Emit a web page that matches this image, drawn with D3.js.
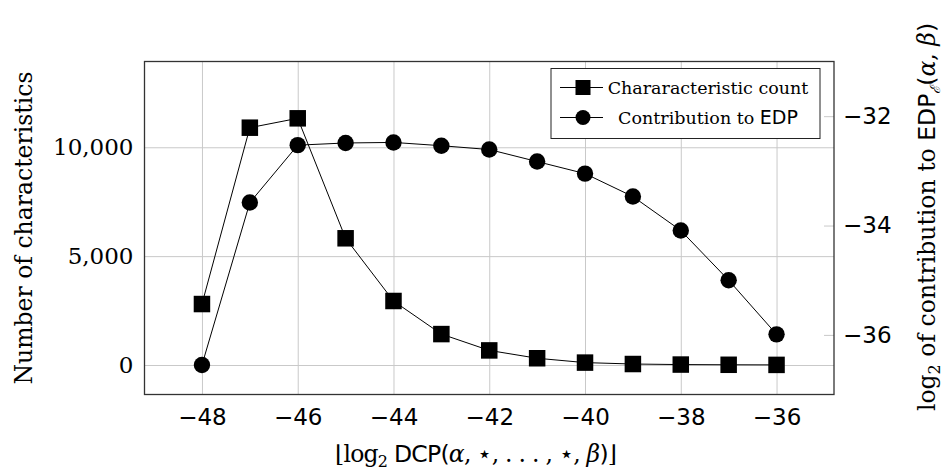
<!DOCTYPE html>
<html>
<head>
<meta charset="utf-8">
<script src="https://cdn.jsdelivr.net/npm/d3@7"></script>
<style>
  html, body { margin: 0; padding: 0; background: #fff; }
  svg { display: block; }
</style>
</head>
<body>
<svg id="chart" width="945" height="471"></svg>
<script>
// ---- data ----
const xValues = [-48, -47, -46, -45, -44, -43, -42, -41, -40, -39, -38, -37, -36];
const characteristicCount = [2800, 10900, 11330, 5820, 2940, 1420, 670, 310, 110, 45, 20, 10, 5];
const edpContribution = [-36.55, -33.58, -32.53, -32.49, -32.48, -32.54, -32.61, -32.83, -33.05, -33.47, -34.09, -35.0, -35.99];
const xTicks = [-48, -46, -44, -42, -40, -38, -36];
const leftTicks = [0, 5000, 10000];
const rightTicks = [-36, -34, -32];
const legendLabels = ["Chararacteristic count", "Contribution to "];

// ---- layout ----
const L = 144.5, R = 834, T = 61.5, B = 394.5;
const SERIF = "'DejaVu Serif', serif";
const SANS = "'DejaVu Sans', sans-serif";
const GRID = "#c9c9c9";

const svg = d3.select("#chart");
const x = d3.scaleLinear().domain([-49.2, -34.8]).range([L, R]);
const yL = d3.scaleLinear().domain([-1355, 13940]).range([B, T]);
const yR = d3.scaleLinear().domain([-37.09, -31.0]).range([B, T]);
const minus = v => String(v).replace("-", "\u2212");

// grid vertical
const gx = svg.append("g").attr("transform", `translate(0,${B})`)
  .call(d3.axisBottom(x).tickValues(xTicks).tickSize(-(B - T)).tickFormat(""));
gx.select(".domain").remove();
gx.selectAll("line").attr("stroke", GRID).attr("stroke-width", 1);

// grid horizontal (left axis)
const gy = svg.append("g").attr("transform", `translate(${L},0)`)
  .call(d3.axisLeft(yL).tickValues(leftTicks).tickSize(-(R - L)).tickFormat(""));
gy.select(".domain").remove();
gy.selectAll("line").attr("stroke", GRID).attr("stroke-width", 1);

// right inward ticks
const gr = svg.append("g").attr("transform", `translate(${R},0)`)
  .call(d3.axisRight(yR).tickValues(rightTicks).tickSize(-10).tickFormat(""));
gr.select(".domain").remove();
gr.selectAll("line").attr("stroke", GRID).attr("stroke-width", 1);

// tick labels bottom
const bx = svg.append("g").attr("transform", `translate(0,${B})`)
  .call(d3.axisBottom(x).tickValues(xTicks).tickSize(0).tickPadding(14).tickFormat(minus));
bx.select(".domain").remove();
bx.selectAll("text").attr("font-family", SANS).attr("font-size", 23).attr("fill", "#000");

// tick labels left
const bl = svg.append("g").attr("transform", `translate(${L},0)`)
  .call(d3.axisLeft(yL).tickValues(leftTicks).tickSize(0).tickPadding(11).tickFormat(d3.format(",")));
bl.select(".domain").remove();
bl.selectAll("text").attr("font-family", SERIF).attr("font-size", 23).attr("fill", "#000");

// tick labels right
const br = svg.append("g").attr("transform", `translate(${R},0)`)
  .call(d3.axisRight(yR).tickValues(rightTicks).tickSize(0).tickPadding(9).tickFormat(minus));
br.select(".domain").remove();
br.selectAll("text").attr("font-family", SANS).attr("font-size", 23).attr("fill", "#000");

// frame
svg.append("rect").attr("x", L).attr("y", T).attr("width", R - L).attr("height", B - T)
  .attr("fill", "none").attr("stroke", "#333").attr("stroke-width", 1.3);

// series
const countPts = xValues.map((v, i) => [x(v), yL(characteristicCount[i])]);
const edpPts = xValues.map((v, i) => [x(v), yR(edpContribution[i])]);
const line = d3.line();
svg.append("path").attr("d", line(countPts)).attr("fill", "none").attr("stroke", "#000").attr("stroke-width", 1);
svg.append("path").attr("d", line(edpPts)).attr("fill", "none").attr("stroke", "#000").attr("stroke-width", 1);
const SQ = 16.5;
svg.append("g").selectAll("rect").data(countPts).join("rect")
  .attr("x", d => d[0] - SQ / 2).attr("y", d => d[1] - SQ / 2)
  .attr("width", SQ).attr("height", SQ).attr("fill", "#000");
svg.append("g").selectAll("circle").data(edpPts).join("circle")
  .attr("cx", d => d[0]).attr("cy", d => d[1]).attr("r", 8.2).attr("fill", "#000");

// legend
const lg = svg.append("g");
lg.append("rect").attr("x", 551).attr("y", 68.5).attr("width", 269).attr("height", 70)
  .attr("fill", "#fff").attr("stroke", "#222").attr("stroke-width", 1);
const rows = [87.5, 117.5];
rows.forEach((ry, i) => {
  lg.append("line").attr("x1", 560).attr("x2", 603).attr("y1", ry).attr("y2", ry).attr("stroke", "#000").attr("stroke-width", 1);
  if (i === 0) lg.append("rect").attr("x", 583 - 7.5).attr("y", ry - 7.5).attr("width", 15).attr("height", 15).attr("fill", "#000");
  else lg.append("circle").attr("cx", 583).attr("cy", ry).attr("r", 7.5).attr("fill", "#000");
});
lg.append("text").attr("x", 708).attr("y", rows[0] + 6).attr("text-anchor", "middle")
  .attr("font-family", SERIF).attr("font-size", 17.5).text(legendLabels[0]);
const t2 = lg.append("text").attr("x", 708).attr("y", rows[1] + 6).attr("text-anchor", "middle")
  .attr("font-family", SERIF).attr("font-size", 17.5);
t2.append("tspan").text(legendLabels[1]);
t2.append("tspan").attr("font-family", SANS).attr("font-size", 19).text("EDP");

// x axis label
const xl = svg.append("text").attr("x", 335).attr("y", 462)
  .attr("textLength", 282).attr("lengthAdjust", "spacing")
  .attr("font-family", SERIF).attr("font-size", 23.5);
xl.append("tspan").text("\u230Alog");
xl.append("tspan").attr("font-size", 16).attr("dy", 5).text("2");
xl.append("tspan").attr("dy", -5).attr("font-family", SANS).text(" DCP(");
xl.append("tspan").attr("font-style", "italic").text("\u03B1");
xl.append("tspan").text(", \u22C6, . . . , \u22C6, ");
xl.append("tspan").attr("font-style", "italic").text("\u03B2");
xl.append("tspan").attr("font-family", SANS).text(")");
xl.append("tspan").text("\u230B");

// left axis label
svg.append("text").attr("transform", `translate(32,${(T + B) / 2}) rotate(-90)`)
  .attr("text-anchor", "middle").attr("font-family", SERIF).attr("font-size", 23.5)
  .text("Number of characteristics");

// right axis label
const rl = svg.append("text").attr("transform", `translate(935,217) rotate(-90)`)
  .attr("text-anchor", "middle").attr("font-family", SERIF).attr("font-size", 23.5);
rl.append("tspan").text("log");
rl.append("tspan").attr("font-size", 16).attr("dy", 5).text("2");
rl.append("tspan").attr("dy", -5).text(" of contribution to ");
rl.append("tspan").attr("font-family", SANS).text("EDP");
rl.append("tspan").attr("font-size", 14).attr("dy", 5).attr("font-style", "italic").text("\u2130");
rl.append("tspan").attr("dy", -5).attr("font-family", SANS).text("(");
rl.append("tspan").attr("font-style", "italic").text("\u03B1");
rl.append("tspan").text(", ");
rl.append("tspan").attr("font-style", "italic").text("\u03B2");
rl.append("tspan").attr("font-family", SANS).text(")");
</script>
</body>
</html>
